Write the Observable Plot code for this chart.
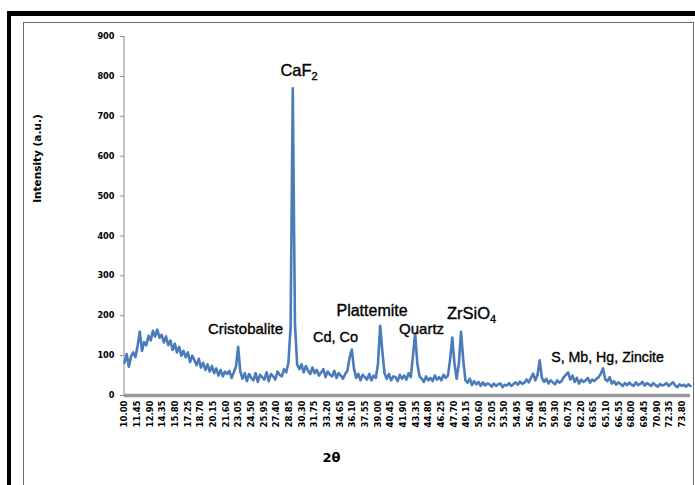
<!DOCTYPE html>
<html><head><meta charset="utf-8">
<script src="https://cdn.jsdelivr.net/npm/d3@7"></script>
<script src="https://cdn.jsdelivr.net/npm/@observablehq/plot@0.6"></script>
<style>
html,body{margin:0;padding:0;background:#fff;}
#wrap{position:relative;width:695px;height:485px;overflow:hidden;}
.b{position:absolute;}
</style></head><body>
<div id="wrap">
<div class="b" style="left:7px;top:11px;width:688px;height:5px;background:#000"></div>
<div class="b" style="left:7px;top:11px;width:4px;height:474px;background:#000"></div>
<div class="b" style="left:23px;top:22px;width:669px;height:470px;border:1px solid #666;border-bottom:none"></div>
<div id="chart" class="b" style="left:0;top:0"></div>
</div>
<script>
// 2θ scan: start, step (degrees)
const scanStart = 10.0;
const scanStep = 0.25;
// Intensity (a.u.), one row per degree (4 samples each), 10° … 74.75°
const intensity = [
  82,104,72,98,      // 10
  108,96,125,160,    // 11
  112,134,126,150,   // 12
  138,162,148,165,   // 13
  145,152,133,148,   // 14
  126,138,114,130,   // 15
  108,122,100,112,   // 16
  96,108,84,100,     // 17
  88,76,92,70,       // 18
  82,64,78,60,       // 19
  74,56,68,50,       // 20
  64,48,60,54,       // 21
  62,44,58,72,       // 22
  122,60,42,56,      // 23
  36,54,44,38,       // 24
  56,34,52,46,       // 25
  40,58,36,54,       // 26
  48,40,60,52,       // 27
  48,66,58,82,       // 28
  170,770,180,78,    // 29
  66,78,58,74,       // 30
  62,54,70,56,       // 31
  64,50,58,66,       // 32
  46,60,52,48,       // 33
  62,44,56,50,       // 34
  42,54,62,95,       // 35
  115,68,44,54,      // 36
  38,52,46,40,       // 37
  54,38,50,44,       // 38
  80,175,110,55,     // 39
  42,54,38,48,       // 40
  46,36,52,42,       // 41
  50,40,56,46,       // 42
  100,155,80,48,     // 43
  42,34,48,38,       // 44
  44,36,50,40,       // 45
  46,38,52,44,       // 46
  50,90,145,80,      // 47
  42,80,160,90,      // 48
  38,32,42,26,       // 49
  36,28,34,24,       // 50
  33,25,30,28,       // 51
  22,30,24,28,       // 52
  30,21,27,25,       // 53
  31,24,29,33,       // 54
  27,35,29,32,       // 55
  40,33,44,55,       // 56
  38,52,88,44,       // 57
  34,42,30,38,       // 58
  33,28,38,32,       // 59
  36,46,52,58,       // 60
  40,50,34,44,       // 61
  30,40,34,38,       // 62
  44,32,40,36,       // 63
  42,46,55,68,       // 64
  40,36,46,30,       // 65
  36,27,33,29,       // 66
  24,31,26,32,       // 67
  27,24,33,26,       // 68
  29,34,25,31,       // 69
  28,24,31,26,       // 70
  22,29,25,27,       // 71
  31,24,29,33,       // 72
  25,21,28,24,       // 73
  27,22,28,24        // 74
];
// x tick labels (category axis labels)
const xTickLabels = ["10.00","11.45","12.90","14.35","15.80","17.25","18.70","20.15","21.60","23.05","24.50","25.95","27.40","28.85","30.30","31.75","33.20","34.65","36.10","37.55","39.00","40.45","41.90","43.35","44.80","46.25","47.70","49.15","50.60","52.05","53.50","54.95","56.40","57.85","59.30","60.75","62.20","63.65","65.10","66.55","68.00","69.45","70.90","72.35","73.80"];
const yTicks = [0,100,200,300,400,500,600,700,800,900];
// Phase annotations
const annLabels = ["CaF2","Cristobalite","Cd, Co","Plattemite","Quartz","ZrSiO4","S, Mb, Hg, Zincite"];
const annX = [29.97, 23.84, 34.14, 38.32, 43.98, 49.70, 65.26];
const annY = [800, 155, 135, 200, 155, 193, 83];

const points = intensity.map((v, i) => ({x: scanStart + i * scanStep, y: v}));
const annotations = annLabels.map((l, i) => ({label: l, x: annX[i], y: annY[i]}));
const annSize = {"CaF2":16.5,"Cristobalite":15,"Cd, Co":14.5,"Plattemite":16,"Quartz":15,"ZrSiO4":16.5,"S, Mb, Hg, Zincite":14.2};

const chart = Plot.plot({
  width: 695, height: 485,
  marginLeft: 124, marginRight: 5, marginTop: 36, marginBottom: 90,
  x: {domain: [10, 74.75], axis: null},
  y: {domain: [0, 900], axis: null},
  style: {background: "transparent", fontFamily: "DejaVu Sans", overflow: "visible"},
  marks: [
    Plot.ruleX([10], {stroke: "#8a8a8a", dx: -0.5}),
    Plot.axisY({ticks: yTicks, tickSize: 4, tickPadding: 6, stroke: "#8a8a8a", fill: "#000",
      fontWeight: "bold", fontSize: 8.2, label: null, tickFormat: d => d}),
    Plot.line(points, {x: "x", y: "y", stroke: "#4a7cba", strokeWidth: 2.6, strokeLinejoin: "round"}),
    Plot.ruleY([0], {stroke: "#9a9a9a", strokeWidth: 3.5}),
    Plot.text(xTickLabels, {x: d => +d, text: d => d, frameAnchor: "bottom", dy: 5, rotate: -90,
      textAnchor: "end", lineAnchor: "middle", fontSize: 8.5, fontWeight: "bold", fill: "#000"}),
    Plot.text(["Intensity (a.u.)"], {y: d => 594, frameAnchor: "left", dx: -87, rotate: -90,
      textAnchor: "middle", lineAnchor: "middle", fontSize: 10.5, fontWeight: "bold", fill: "#000"}),
    Plot.text(["2θ"], {x: d => 33.68, frameAnchor: "bottom", dy: 66, lineAnchor: "bottom",
      textAnchor: "middle", fontSize: 13, fontWeight: "bold", fill: "#000"}),
    Plot.text(annotations, {x: "x", y: "y", text: "label", textAnchor: "middle", lineAnchor: "bottom",
      fontSize: d => annSize[d.label], fontFamily: "Liberation Sans, Arial, sans-serif", fill: "#000",
      stroke: "#000", strokeWidth: 0.35})
  ]
});
// chemical subscripts
const svgns = "http://www.w3.org/2000/svg";
chart.querySelectorAll("text").forEach(t => {
  const m = t.textContent.match(/^(CaF|ZrSiO)(\d)$/);
  if (m) {
    t.textContent = m[1];
    const ts = document.createElementNS(svgns, "tspan");
    ts.setAttribute("dy", "4");
    ts.setAttribute("font-size", "11");
    ts.textContent = m[2];
    t.appendChild(ts);
  }
});
document.getElementById("chart").appendChild(chart);
</script>
</body></html>
